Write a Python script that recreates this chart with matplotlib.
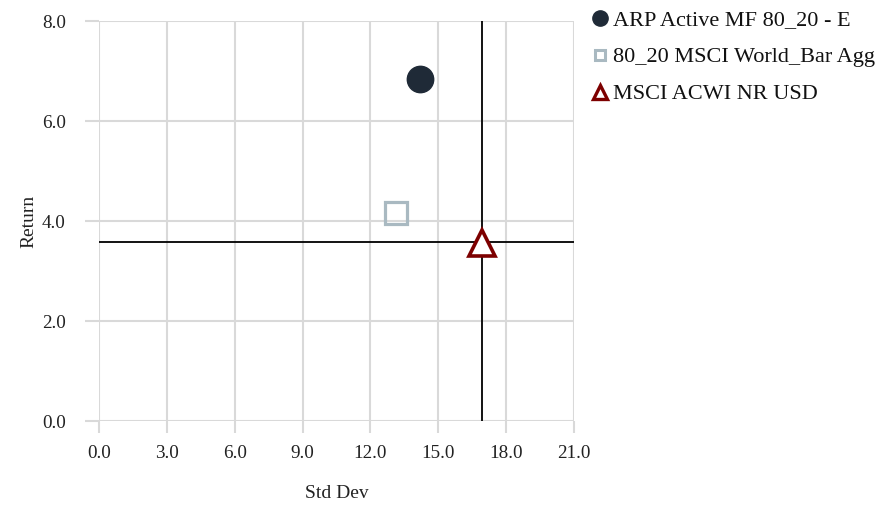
import matplotlib.pyplot as plt
from matplotlib.lines import Line2D

# Risk / return points
names = ['ARP Active MF 80_20 - E', '80_20 MSCI World_Bar Agg', 'MSCI ACWI NR USD']
std_dev = [14.2, 13.15, 16.93]
returns = [6.85, 4.17, 3.57]

# crosshair at the benchmark
bench_x = 16.93
bench_y = 3.58

x_ticks = [0, 3, 6, 9, 12, 15, 18, 21]
y_ticks = [0, 2, 4, 6, 8]

plt.rcParams['font.family'] = ['Liberation Serif', 'DejaVu Serif']

fig = plt.figure(figsize=(8.88, 5.05), dpi=100)
ax = fig.add_axes([0.1115, 0.1663, 0.5349, 0.7921])

grid_col = '#d9d9d9'
for t in x_ticks:
    ax.axvline(t, color=grid_col, lw=1.5, zorder=0)
for t in y_ticks:
    ax.axhline(t, color=grid_col, lw=1.5, zorder=0)

ax.axhline(bench_y, color='black', lw=1.3, zorder=1)
ax.axvline(bench_x, color='black', lw=1.3, zorder=1)

ax.plot(std_dev[0], returns[0], 'o', ms=19, color='#1f2a37', zorder=3)
ax.plot(std_dev[1], returns[1], 's', ms=16, mfc='none', mec='#a9b9c1', mew=2.3, zorder=3)
ax.plot(std_dev[2], returns[2], '^', ms=19, mfc='white', mec='#7d0000', mew=2.6, zorder=3)

ax.set_xlim(0, 21)
ax.set_ylim(0, 8)
ax.set_xticks(x_ticks)
ax.set_yticks(y_ticks)
ax.set_xticklabels([f'{t:.1f}' for t in x_ticks])
ax.set_yticklabels([f'{t:.1f}' for t in y_ticks])
ax.tick_params(axis='both', colors=grid_col, labelcolor='#222222', labelsize=13.8, width=1.5)
ax.tick_params(axis='y', length=10, pad=14)
ax.tick_params(axis='x', length=8.5, pad=9)
for s in ax.spines.values():
    s.set_visible(False)

ax.set_xlabel('Std Dev', fontsize=14, color='#222222', labelpad=16)
ax.set_ylabel('Return', fontsize=14, color='#222222', labelpad=3)

handles = [
    Line2D([], [], ls='none', marker='o', ms=11, color='#1f2a37'),
    Line2D([], [], ls='none', marker='s', ms=7.5, mfc='none', mec='#a9b9c1', mew=2.2),
    Line2D([], [], ls='none', marker='^', ms=10, mfc='white', mec='#7d0000', mew=2.4),
]
fig.legend(handles, names, loc='upper left', bbox_to_anchor=(0.646, 1.02),
           frameon=False, fontsize=16, handlelength=0.6, handletextpad=0.25,
           labelspacing=0.74, labelcolor='#111111')

fig.savefig('out.png', dpi=100)
